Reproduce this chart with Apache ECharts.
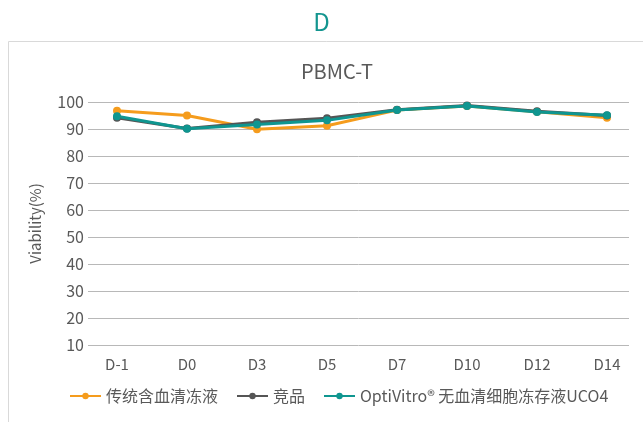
<!DOCTYPE html>
<html lang="zh">
<head>
<meta charset="UTF-8">
<title>PBMC-T</title>
<style>
  html, body { margin: 0; padding: 0; background: #fff; }
  #main { width: 643px; height: 422px; }
</style>
</head>
<body>
<div id="main"></div>
<script src="https://cdn.jsdelivr.net/npm/echarts@6/dist/echarts.min.js"></script>
<script>
  // 数据
  var days = ['D-1', 'D0', 'D3', 'D5', 'D7', 'D10', 'D12', 'D14'];
  var serum = [96.8, 95, 89.9, 91.2, 97, 98.5, 96.4, 94.2];      // 传统含血清冻液
  var rival = [94.2, 90.2, 92.5, 94, 97.1, 98.7, 96.6, 95];      // 竞品
  var uco4 = [94.7, 90.1, 91.7, 93.2, 97, 98.5, 96.3, 95.1];     // OptiVitro UCO4
  var names = ['传统含血清冻液', '竞品', 'OptiVitro® 无血清细胞冻存液UCO4'];
  var colors = ['#f59c1d', '#555555', '#0f9690'];

  var font = 'Noto Sans CJK SC';
  var myChart = echarts.init(document.getElementById('main'));

  function line(name, data, color) {
    return {
      name: name,
      type: 'line',
      xAxisIndex: 1,
      yAxisIndex: 1,
      data: data,
      symbol: 'circle',
      symbolSize: 8,
      lineStyle: { width: 3, color: color },
      itemStyle: { color: color },
      emphasis: { disabled: true }
    };
  }

  var option = {
    animation: false,
    color: colors,
    textStyle: { fontFamily: font },
    title: [
      { text: 'D', left: 'center', top: 5, textStyle: { fontFamily: font, fontSize: 24, fontWeight: 'normal', color: '#13958f' } },
      { text: 'PBMC-T', left: 332, textAlign: 'center', top: 56, textStyle: { fontFamily: font, fontSize: 20, fontWeight: 'normal', color: '#595959' } }
    ],
    graphic: [{
      type: 'rect',
      shape: { x: 8.5, y: 41.5, width: 700, height: 420 },
      style: { fill: 'none', stroke: '#d9d9d9', lineWidth: 1 },
      z: -1
    }],
    legend: {
      bottom: 13,
      left: 64,
      itemWidth: 31,
      itemHeight: 8,
      itemGap: 18,
      textStyle: { fontFamily: font, fontSize: 16, color: '#595959' },
      data: names
    },
    grid: [
      { left: 88, right: 14, top: 102, bottom: 77 },
      { left: 117, right: 36, top: 102, bottom: 77 }
    ],
    xAxis: [
      { type: 'value', gridIndex: 0, min: 0, max: 1, show: false },
      {
        type: 'category', gridIndex: 1, data: days, boundaryGap: false,
        axisLine: { show: false }, axisTick: { show: false },
        axisLabel: { fontFamily: font, fontSize: 15, color: '#595959', margin: 12 }
      }
    ],
    yAxis: [
      {
        type: 'value', gridIndex: 0, min: 10, max: 100, interval: 10,
        name: 'Viability(%)', nameLocation: 'middle', nameGap: 45,
        nameTextStyle: { fontFamily: font, fontSize: 15, color: '#595959' },
        axisLine: { show: false }, axisTick: { show: false },
        axisLabel: { fontFamily: font, fontSize: 16, color: '#595959', margin: 4 },
        splitLine: { lineStyle: { color: '#b8b8b8', width: 1 } }
      },
      { type: 'value', gridIndex: 1, min: 10, max: 100, show: false }
    ],
    series: [
      line(names[0], serum, colors[0]),
      line(names[1], rival, colors[1]),
      line(names[2], uco4, colors[2])
    ]
  };
  myChart.setOption(option);
</script>
</body>
</html>
